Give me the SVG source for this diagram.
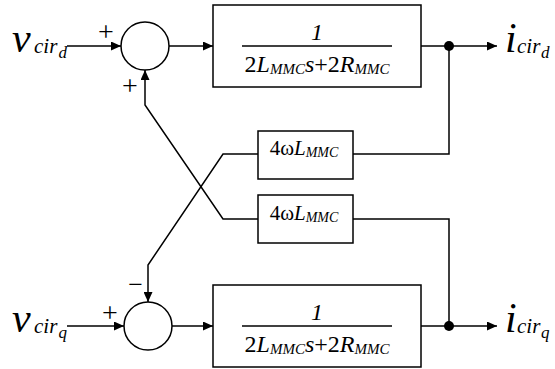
<svg xmlns="http://www.w3.org/2000/svg" width="555" height="369" viewBox="0 0 555 369">
<style>
.ln{fill:none;stroke:#000;stroke-width:1.5}
.box{fill:#fff;stroke:#000;stroke-width:1.5}
.t{fill:#000}
.it{font-style:italic}
</style>
<defs>
<marker id="arr" markerUnits="userSpaceOnUse" markerWidth="11" markerHeight="9" refX="10" refY="4.5" orient="auto">
<path d="M0,0 L10,4.5 L0,9 z" fill="#000"/>
</marker>
</defs>
<rect width="555" height="369" fill="#fff"/>
<g id="connectors">
<line class="ln" x1="67" y1="46" x2="121" y2="46" marker-end="url(#arr)"/>
<line class="ln" x1="169" y1="46" x2="213" y2="46" marker-end="url(#arr)"/>
<line class="ln" x1="421" y1="46" x2="497" y2="46" marker-end="url(#arr)"/>
<line class="ln" x1="67" y1="326" x2="124" y2="326" marker-end="url(#arr)"/>
<line class="ln" x1="172" y1="326" x2="213" y2="326" marker-end="url(#arr)"/>
<line class="ln" x1="421" y1="326" x2="497" y2="326" marker-end="url(#arr)"/>
<polyline class="ln" points="449,46 449,154 353,154"/>
<polyline class="ln" points="449,326 449,219 353,219"/>
<polyline class="ln" points="258,154 223,154 148,265 148,302" marker-end="url(#arr)"/>
<polyline class="ln" points="258,219 223,219 145,105 145,70" marker-end="url(#arr)"/>
<circle cx="449" cy="46" r="5" fill="#000"/>
<circle cx="449" cy="326" r="5" fill="#000"/>
</g>
<g font-family="'Liberation Serif', 'DejaVu Serif', serif">
<g id="sum-d">
<circle class="box" cx="145" cy="46" r="24"/>
<text class="t" x="106" y="41" font-size="28" text-anchor="middle">+</text>
<text class="t" x="130" y="95" font-size="28" text-anchor="middle">+</text>
</g>
<g id="sum-q">
<circle class="box" cx="148" cy="326" r="24"/>
<text class="t" x="135.5" y="293" font-size="26" text-anchor="middle">−</text>
<text class="t" x="110" y="322" font-size="28" text-anchor="middle">+</text>
</g>
<g id="input-d">
<text class="t it" x="12" y="52" font-size="42">v</text>
<text class="t it" x="34" y="53" font-size="21">cir</text>
<text class="t it" x="58.5" y="58" font-size="17">d</text>
</g>
<g id="input-q">
<text class="t it" x="12" y="332" font-size="42">v</text>
<text class="t it" x="34" y="333" font-size="21">cir</text>
<text class="t it" x="58.5" y="338" font-size="17">q</text>
</g>
<g id="output-d">
<text class="t it" x="505" y="52" font-size="42">i</text>
<text class="t it" x="517" y="53" font-size="21">cir</text>
<text class="t it" x="541" y="58" font-size="17">d</text>
</g>
<g id="output-q">
<text class="t it" x="505" y="332" font-size="42">i</text>
<text class="t it" x="517" y="333" font-size="21">cir</text>
<text class="t it" x="541" y="338" font-size="17">q</text>
</g>
<g id="plant-d">
<rect class="box" x="213" y="5" width="208" height="82"/>
<text class="t it" x="317" y="40" font-size="24" text-anchor="middle">1</text>
<line class="ln" x1="242" y1="46" x2="392" y2="46"/>
<text class="t" x="317" y="72" font-size="24" text-anchor="middle">2<tspan class="it">L</tspan><tspan class="it" font-size="15" dy="2">MMC</tspan><tspan class="it" dy="-2">s</tspan>+2<tspan class="it">R</tspan><tspan class="it" font-size="15" dy="2">MMC</tspan></text>
</g>
<g id="plant-q">
<rect class="box" x="213" y="285" width="208" height="82"/>
<text class="t it" x="317" y="320" font-size="24" text-anchor="middle">1</text>
<line class="ln" x1="242" y1="326" x2="392" y2="326"/>
<text class="t" x="317" y="352" font-size="24" text-anchor="middle">2<tspan class="it">L</tspan><tspan class="it" font-size="15" dy="2">MMC</tspan><tspan class="it" dy="-2">s</tspan>+2<tspan class="it">R</tspan><tspan class="it" font-size="15" dy="2">MMC</tspan></text>
</g>
<g id="coupling-1">
<rect class="box" x="258" y="131" width="95" height="48"/>
<text class="t" x="304" y="155" font-size="21" text-anchor="middle">4ω<tspan class="it">L</tspan><tspan class="it" font-size="14" dy="2">MMC</tspan></text>
</g>
<g id="coupling-2">
<rect class="box" x="258" y="195" width="95" height="48"/>
<text class="t" x="304" y="220" font-size="21" text-anchor="middle">4ω<tspan class="it">L</tspan><tspan class="it" font-size="14" dy="2">MMC</tspan></text>
</g>
</g>
</svg>
